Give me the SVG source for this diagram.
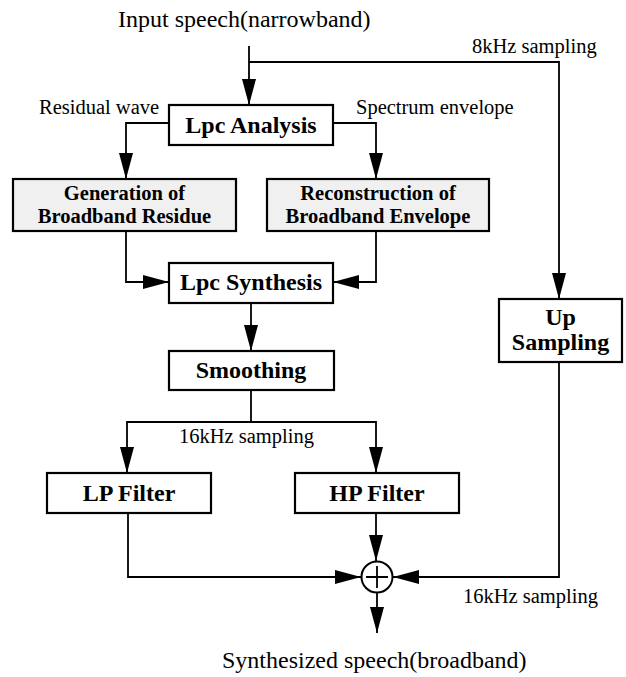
<svg xmlns="http://www.w3.org/2000/svg" width="626" height="677" viewBox="0 0 626 677">
<style>
.box{fill:#fff;stroke:#000;stroke-width:2.2}
.gbox{fill:#f0f0f0;stroke:#000;stroke-width:2.2}
.ln{fill:none;stroke:#000;stroke-width:1.8}
.lbl{font-family:"Liberation Serif","Times New Roman",Times,serif;font-size:20.5px;fill:#000}
.ttl{font-family:"Liberation Serif","Times New Roman",Times,serif;font-size:24px;fill:#000}
.bt{font-family:"Liberation Serif","Times New Roman",Times,serif;font-weight:bold;font-size:24px;fill:#000;text-anchor:middle}
.bs{font-family:"Liberation Serif","Times New Roman",Times,serif;font-weight:bold;font-size:20.5px;fill:#000;text-anchor:middle}
</style>
<defs>
<marker id="ah" markerUnits="userSpaceOnUse" markerWidth="26" markerHeight="14" refX="26" refY="7" orient="auto">
<path d="M0,0 L26,7 L0,14 z" fill="#000"/>
</marker>
</defs>
<rect width="626" height="677" fill="#fff"/>
<g id="texts">
<text class="ttl" x="118" y="27">Input speech(narrowband)</text>
<text class="lbl" x="472" y="53">8kHz sampling</text>
<text class="lbl" x="39" y="114">Residual wave</text>
<text class="lbl" x="356" y="114">Spectrum envelope</text>
<text class="lbl" x="179" y="443">16kHz sampling</text>
<text class="lbl" x="463" y="603">16kHz sampling</text>
<text class="ttl" x="222" y="668">Synthesized speech(broadband)</text>
</g>
<g id="connectors">
<path class="ln" d="M249,46 V105" marker-end="url(#ah)"/>
<path class="ln" d="M249,62 H559 V299" marker-end="url(#ah)"/>
<path class="ln" d="M169,123 H126 V179" marker-end="url(#ah)"/>
<path class="ln" d="M333,123 H376 V179" marker-end="url(#ah)"/>
<path class="ln" d="M126,231 V282 H169" marker-end="url(#ah)"/>
<path class="ln" d="M376,231 V282 H333" marker-end="url(#ah)"/>
<path class="ln" d="M251,303 V351" marker-end="url(#ah)"/>
<path class="ln" d="M251,390 V422 H127 V473" marker-end="url(#ah)"/>
<path class="ln" d="M251,422 H376 V473" marker-end="url(#ah)"/>
<path class="ln" d="M128,513 V577 H361" marker-end="url(#ah)"/>
<path class="ln" d="M376,513 V561" marker-end="url(#ah)"/>
<path class="ln" d="M559,362 V577 H393" marker-end="url(#ah)"/>
<path class="ln" d="M377,593 V633" marker-end="url(#ah)"/>
</g>
<g id="lpc-analysis">
<rect class="box" x="169" y="105" width="164" height="40"/>
<text class="bt" x="251" y="133">Lpc Analysis</text>
</g>
<g id="generation">
<rect class="gbox" x="13" y="179" width="223" height="52"/>
<text class="bs" x="124.5" y="200">Generation of</text>
<text class="bs" x="124.5" y="223">Broadband Residue</text>
</g>
<g id="reconstruction">
<rect class="gbox" x="267" y="179" width="222" height="52"/>
<text class="bs" x="378" y="200">Reconstruction of</text>
<text class="bs" x="378" y="223">Broadband Envelope</text>
</g>
<g id="lpc-synthesis">
<rect class="box" x="169" y="263" width="164" height="40"/>
<text class="bt" x="251" y="290">Lpc Synthesis</text>
</g>
<g id="smoothing">
<rect class="box" x="169" y="351" width="165" height="39"/>
<text class="bt" x="251" y="378">Smoothing</text>
</g>
<g id="up-sampling">
<rect class="box" x="499" y="299" width="123" height="63"/>
<text class="bt" x="560.5" y="325">Up</text>
<text class="bt" x="560.5" y="350">Sampling</text>
</g>
<g id="lp-filter">
<rect class="box" x="47" y="473" width="164" height="40"/>
<text class="bt" x="129" y="501">LP Filter</text>
</g>
<g id="hp-filter">
<rect class="box" x="295" y="473" width="164" height="40"/>
<text class="bt" x="377" y="501">HP Filter</text>
</g>
<g id="sum">
<circle cx="377" cy="577" r="15.5" fill="#fff" stroke="#000" stroke-width="2"/>
<path class="ln" d="M366,577 H388 M377,566 V588"/>
</g>
</svg>
